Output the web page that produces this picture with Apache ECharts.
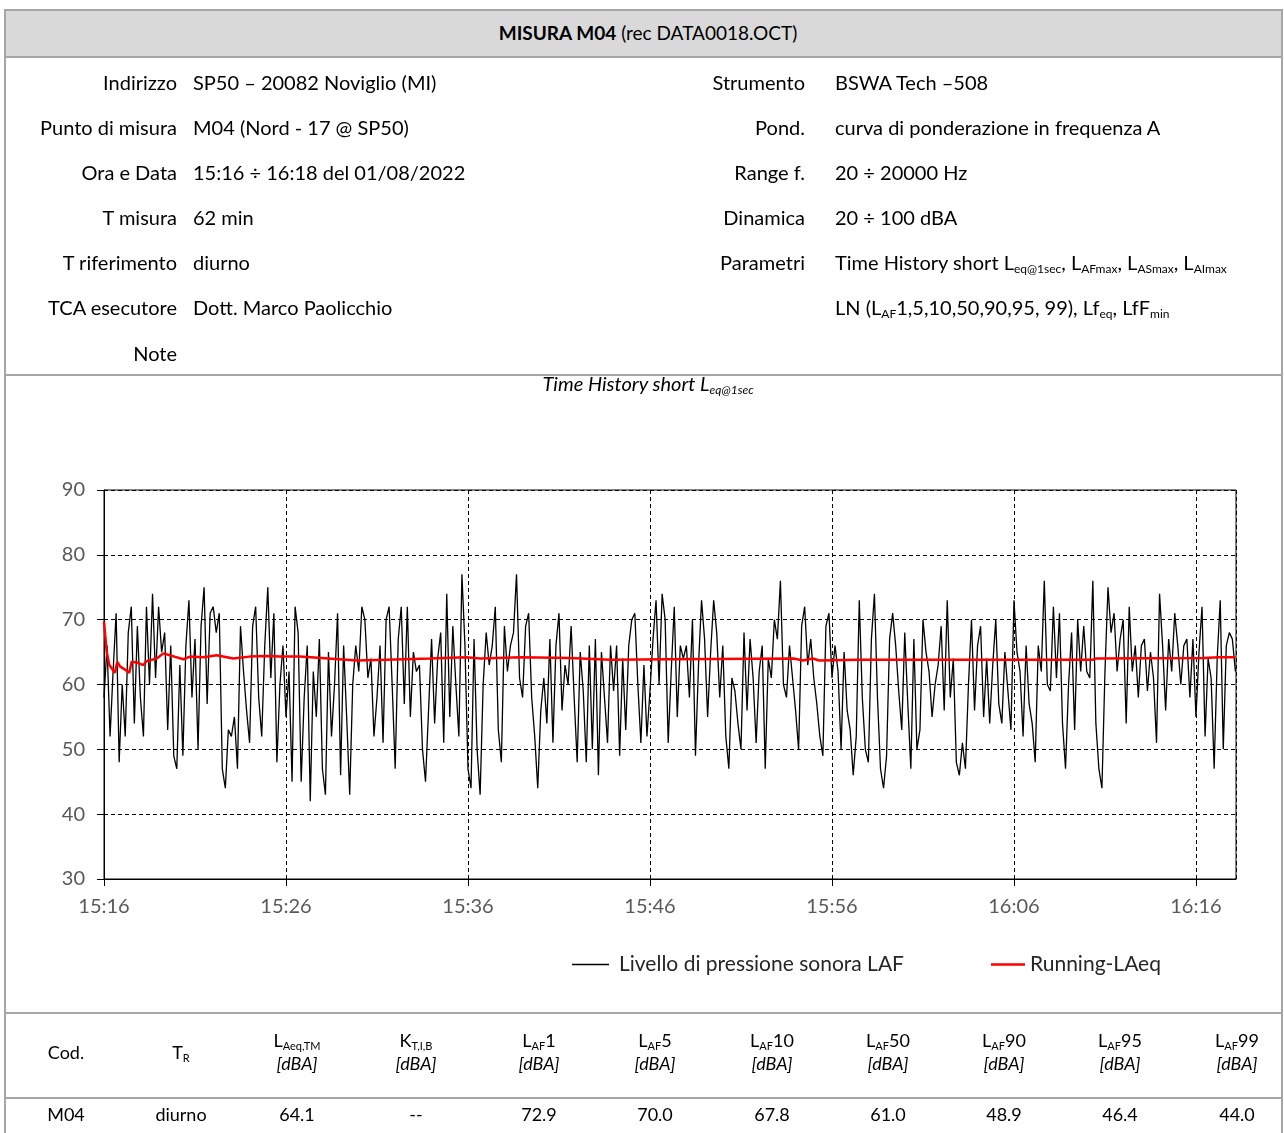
<!DOCTYPE html>
<html>
<head>
<meta charset="utf-8">
<script src="https://cdn.jsdelivr.net/npm/echarts@6/dist/echarts.min.js"></script>
<style>
  html,body{margin:0;padding:0;background:#fff;}
  body{width:1284px;height:1133px;position:relative;overflow:hidden;font-family:Lato,"Open Sans",sans-serif;color:#000;}
  #chart{position:absolute;left:0;top:0;width:1284px;height:1133px;}
  .ln{position:absolute;background:#a6a6a6;z-index:2;}
  .hdr{position:absolute;left:5px;top:10px;width:1277px;height:47px;background:#d9d9d9;z-index:1;}
  .tx{position:absolute;height:26px;line-height:26px;font-size:18px;white-space:nowrap;z-index:3;}
  .big{font-size:20px;}
  .tx sub{font-size:11px;vertical-align:-3px;line-height:0;}
  .big sub{font-size:12px;}
  .it{font-style:italic;}
</style>
</head>
<body>
<div id="chart"></div>
<div class="hdr"></div>
<div id="overlay"></div>
<script>
// ---------------- DATA ----------------
const startHour = 15, startMinute = 16;
const lafStepSec = 10;
// Livello di pressione sonora LAF (dBA), one reading every 10 s from 15:16
const lafValues = [
58,66,52,62,71,48,60,52,68,72,
54,69,58,52,72,60,74,61,72,65,
68,53,66,49,47,63,49,66,73,58,
67,50,69,75,57,71,72,68,71,47,
44,53,52,55,47,69,62,56,51,69,
72,58,52,66,75,61,71,48,60,66,
55,62,
45,72,68,45,58,66,42,62,55,67,
47,43,65,52,60,71,46,66,55,43,
60,66,62,72,70,61,64,52,58,66,
51,70,72,60,47,67,72,57,72,55,
65,62,63,50,45,56,67,54,64,68,
51,74,55,69,60,52,77,66,47,44,
67,50,43,
60,68,63,66,72,53,48,69,62,66,
68,77,61,58,69,71,58,52,44,56,
61,54,67,51,66,71,56,63,60,69,
58,48,65,59,48,66,50,67,46,65,
58,51,66,59,66,49,64,53,66,70,
71,60,51,63,52,59,67,73,60,74,
70,51,
62,72,55,66,64,66,58,70,49,63,
73,67,55,65,73,68,58,66,52,47,
61,59,54,50,68,56,67,61,51,62,
66,47,64,61,70,67,76,60,58,66,
61,56,50,69,72,63,67,61,57,52,
49,69,71,61,66,62,50,65,56,53,
46,52,73,
58,50,48,67,74,58,47,44,49,67,
71,66,59,53,68,57,47,67,50,53,
70,65,62,55,60,63,69,56,73,58,
64,48,46,51,47,60,70,56,66,69,
55,64,54,63,70,57,54,65,59,53,
73,65,62,52,66,57,54,48,66,62,
76,60,
59,72,61,71,54,47,60,68,53,70,
62,69,62,61,76,54,47,44,62,75,
68,71,62,67,70,54,72,62,66,58,
66,67,59,65,61,51,74,66,56,67,
62,71,66,60,66,67,58,67,55,65,
72,52,64,61,47,64,73,50,66,68,
67,62
];
// Running-LAeq (dBA) read at these minutes after 15:16
const runTimesMin = [0,0.15,0.29,0.42,0.6,0.73,0.88,1.15,1.39,1.52,1.8,2.16,2.34,2.9,3.26,3.63,4.36,4.73,5.46,6.19,7.1,8.0,8.9,9.67,10.77,13.9,15.5,17.9,19.9,20.7,22.9,25.6,27.8,31.1,37.9,38.4,38.95,39.3,41.5,45,54.3,54.5,60.4,61.3,62.17];
const runValues   = [69.7,65,63,62.5,61.8,63.5,62.8,62.3,61.8,63.5,63.4,63.0,63.6,64.0,64.8,64.5,63.9,64.3,64.2,64.5,64.0,64.3,64.4,64.3,64.3,63.7,63.8,64.0,64.2,64.0,64.2,64.1,63.8,63.9,64.0,63.7,64.0,63.7,63.8,63.8,63.8,64.0,64.1,64.2,64.2];
const seriesNames = ['Livello di pressione sonora LAF','Running-LAeq'];
const chartTitle = 'Time History short L<sub>eq@1sec</sub>';
const headerBold = 'MISURA M04', headerRest = ' (rec DATA0018.OCT)';
const infoLeftLabels = ['Indirizzo','Punto di misura','Ora e Data','T misura','T riferimento','TCA esecutore','Note'];
const infoLeftValues = ['SP50 – 20082 Noviglio (MI)','M04 (Nord - 17 @ SP50)','15:16 ÷ 16:18 del 01/08/2022','62 min','diurno','Dott. Marco Paolicchio',''];
const infoRightLabels = ['Strumento','Pond.','Range f.','Dinamica','Parametri','',''];
const infoRightValues = ['BSWA Tech –508','curva di ponderazione in frequenza A','20 ÷ 20000 Hz','20 ÷ 100 dBA',
  'Time History short L<sub>eq@1sec</sub>, L<sub>AFmax</sub>, L<sub>ASmax</sub>, L<sub>AImax</sub>',
  'LN (L<sub>AF</sub>1,5,10,50,90,95, 99), Lf<sub>eq</sub>, LfF<sub>min</sub>',''];
const tableHead = ['Cod.','T<sub>R</sub>','L<sub>Aeq,TM</sub>','K<sub>T,I,B</sub>','L<sub>AF</sub>1','L<sub>AF</sub>5','L<sub>AF</sub>10','L<sub>AF</sub>50','L<sub>AF</sub>90','L<sub>AF</sub>95','L<sub>AF</sub>99'];
const tableUnit = ['','','[dBA]','[dBA]','[dBA]','[dBA]','[dBA]','[dBA]','[dBA]','[dBA]','[dBA]'];
const tableRow  = ['M04','diurno','64.1','--','72.9','70.0','67.8','61.0','48.9','46.4','44.0'];

// ---------------- LAYOUT (HTML text & frame) ----------------
const ov = document.getElementById('overlay');
function add(html, style, cls){ const d=document.createElement('div'); d.className=cls||'tx'; d.style.cssText=style; d.innerHTML=html; ov.appendChild(d); return d; }
function hline(y,x1,x2){ add('', `left:${x1}px;top:${y-1}px;width:${x2-x1}px;height:2px;`, 'ln'); }
function vline(x,y1,y2){ add('', `left:${x-1}px;top:${y1}px;width:2px;height:${y2-y1}px;`, 'ln'); }
hline(10,4,1283); hline(57,4,1283); hline(375,4,1283); hline(1013,4,1283); hline(1098,4,1283);
vline(5,9,1133); vline(1282,9,1133);
add(`<b>${headerBold}</b>${headerRest}`, 'left:348px;width:600px;text-align:center;top:20px;font-size:19px;');
const rowY = [82,127,172,217,262,307,353];
rowY.forEach((y,i)=>{
  add(infoLeftLabels[i], `right:${1284-177}px;top:${y-13}px;text-align:right;`, 'tx big');
  add(infoLeftValues[i], `left:193px;top:${y-13}px;`, 'tx big');
  add(infoRightLabels[i], `right:${1284-805}px;top:${y-13}px;text-align:right;`, 'tx big');
  add(infoRightValues[i], `left:835px;top:${y-13}px;`, 'tx big');
});
add(chartTitle, 'left:448px;width:400px;text-align:center;top:370px;font-style:italic;font-size:20px;', 'tx big');
const colX = [66,181,297,416,539,655,772,888,1004,1120,1237];
colX.forEach((x,i)=>{
  if (tableUnit[i]) {
    add(tableHead[i], `left:${x-60}px;width:120px;text-align:center;top:${1040-13}px;`);
    add(tableUnit[i], `left:${x-60}px;width:120px;text-align:center;top:${1063-13}px;`, 'tx it');
  } else {
    add(tableHead[i], `left:${x-60}px;width:120px;text-align:center;top:${1052-13}px;`);
  }
  add(tableRow[i], `left:${x-60}px;width:120px;text-align:center;top:${1114-13}px;`);
});

// ---------------- CHART ----------------
const lafData = lafValues.map((v,i)=>[i*lafStepSec/60, v]);
const runData = runTimesMin.map((t,i)=>[t, runValues[i]]);
function fmtTime(v){
  if (Math.abs(v/10 - Math.round(v/10)) > 1e-6) return '';
  const tot = startHour*60 + startMinute + v;
  const h = Math.floor(tot/60), m = Math.round(tot - h*60);
  return h + ':' + String(m).padStart(2,'0');
}
const chart = echarts.init(document.getElementById('chart'), null, {renderer:'canvas'});
const axisFont = {fontFamily:'Lato', fontSize:20, color:'#595959'};
chart.setOption({
  animation:false,
  grid:{left:104, top:490, width:1132, height:389, show:true, borderColor:'#000', borderWidth:1, containLabel:false},
  xAxis:{
    type:'value', min:0, max:62.2, interval:10,
    axisLine:{show:true, lineStyle:{color:'#000', width:1}},
    axisTick:{show:true, length:7, lineStyle:{color:'#000'}},
    axisLabel:Object.assign({margin:18, formatter:fmtTime, showMaxLabel:false}, axisFont),
    splitLine:{show:true, lineStyle:{color:'#000', type:[4,3], width:1}}
  },
  yAxis:{
    type:'value', min:30, max:90, interval:10,
    axisLine:{show:true, lineStyle:{color:'#000', width:1}},
    axisTick:{show:true, length:7, lineStyle:{color:'#000'}},
    axisLabel:Object.assign({margin:19}, axisFont),
    splitLine:{show:true, lineStyle:{color:'#000', type:[4,3], width:1}}
  },
  legend:[
    {data:[seriesNames[0]], left:567, top:949, icon:'rect', itemWidth:37, itemHeight:1.5, itemGap:0,
     textStyle:{fontFamily:'Lato', fontSize:21, color:'#262626', padding:[0,0,0,5]}},
    {data:[seriesNames[1]], left:986, top:949, icon:'rect', itemWidth:34, itemHeight:2.5, itemGap:0,
     textStyle:{fontFamily:'Lato', fontSize:21, color:'#262626', padding:[0,0,0,0]}}
  ],
  series:[
    {name:seriesNames[0], type:'line', data:lafData, symbol:'none', showSymbol:false,
     lineStyle:{color:'#000', width:1.3}, itemStyle:{color:'#000'}, z:2},
    {name:seriesNames[1], type:'line', data:runData, symbol:'none', showSymbol:false,
     lineStyle:{color:'#ff0000', width:2.5}, itemStyle:{color:'#ff0000'}, z:3}
  ]
});
</script>
</body>
</html>
